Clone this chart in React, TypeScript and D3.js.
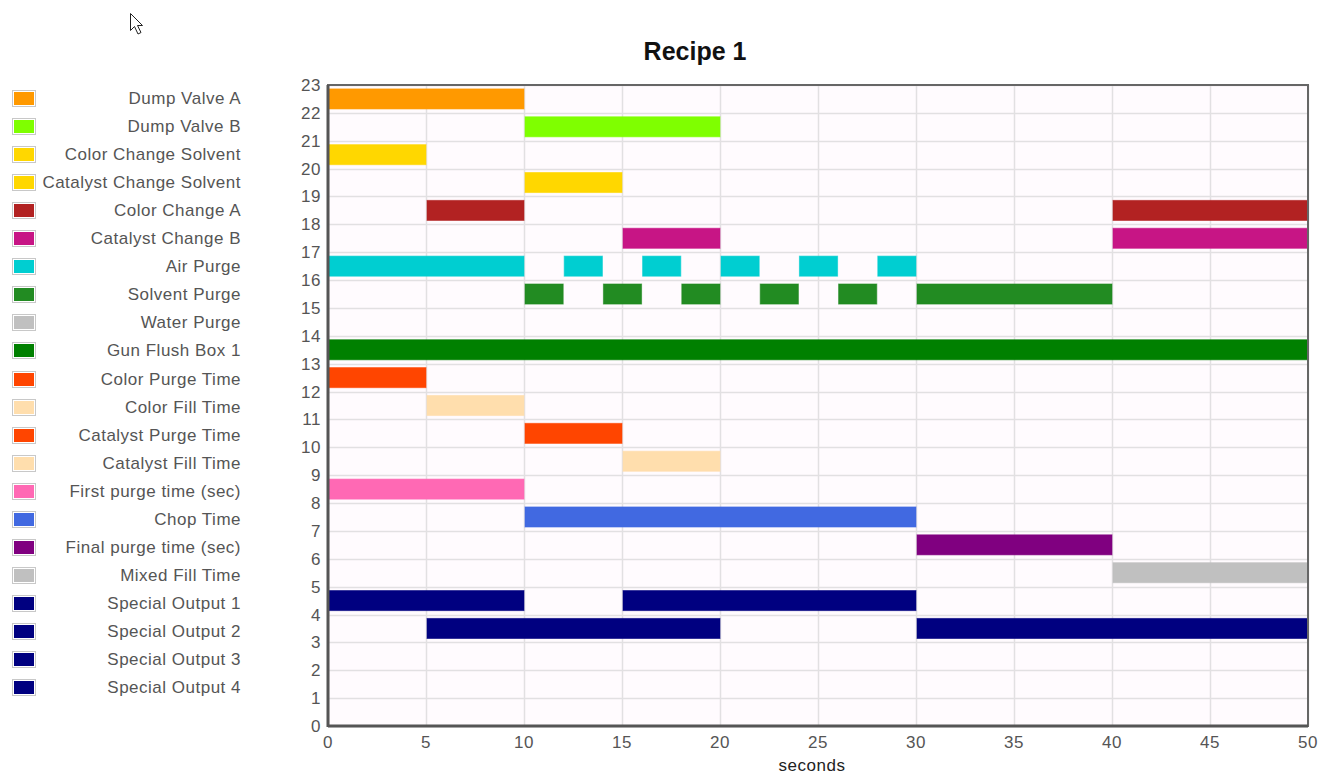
import React from "react";
import * as d3 from "d3";

const title = "Recipe 1";
const xLabel = "seconds";

const seriesNames = [
  "Dump Valve A",
  "Dump Valve B",
  "Color Change Solvent",
  "Catalyst Change Solvent",
  "Color Change A",
  "Catalyst Change B",
  "Air Purge",
  "Solvent Purge",
  "Water Purge",
  "Gun Flush Box 1",
  "Color Purge Time",
  "Color Fill Time",
  "Catalyst Purge Time",
  "Catalyst Fill Time",
  "First purge time (sec)",
  "Chop Time",
  "Final purge time (sec)",
  "Mixed Fill Time",
  "Special Output 1",
  "Special Output 2",
  "Special Output 3",
  "Special Output 4",
];

const seriesColors = [
  "#FF9900",
  "#7FFF00",
  "#FFD700",
  "#FFD700",
  "#B22222",
  "#C71585",
  "#00CED1",
  "#228B22",
  "#C0C0C0",
  "#008000",
  "#FF4500",
  "#FFDEAD",
  "#FF4500",
  "#FFDEAD",
  "#FF69B4",
  "#4169E1",
  "#800080",
  "#C0C0C0",
  "#000080",
  "#000080",
  "#000080",
  "#000080",
];

// row (y value of bar centre) for each series
const seriesRows = [
  22.5, 21.5, 20.5, 19.5, 18.5, 17.5, 16.5, 15.5, 14.5, 13.5, 12.5, 11.5,
  10.5, 9.5, 8.5, 7.5, 6.5, 5.5, 4.5, 3.5, 2.5, 1.5,
];

// [start, end] intervals in seconds for each series
const seriesSegments: number[][][] = [
  [[0, 10]],
  [[10, 20]],
  [[0, 5]],
  [[10, 15]],
  [[5, 10], [40, 50]],
  [[15, 20], [40, 50]],
  [[0, 10], [12, 14], [16, 18], [20, 22], [24, 26], [28, 30]],
  [[10, 12], [14, 16], [18, 20], [22, 24], [26, 28], [30, 40]],
  [],
  [[0, 50]],
  [[0, 5]],
  [[5, 10]],
  [[10, 15]],
  [[15, 20]],
  [[0, 10]],
  [[10, 30]],
  [[30, 40]],
  [[40, 50]],
  [[0, 10], [15, 30]],
  [[5, 20], [30, 50]],
  [],
  [],
];

const xTicks = [0, 5, 10, 15, 20, 25, 30, 35, 40, 45, 50];
const yTicks = d3.range(0, 24);
const barThickness = 0.72;

const W = 1322;
const H = 774;
const plot = { left: 328, right: 1308, top: 85, bottom: 726 };

const FONT = "'Liberation Sans', Arial, sans-serif";

export default function App() {
  const x = d3.scaleLinear().domain([0, 50]).range([plot.left, plot.right]);
  const y = d3.scaleLinear().domain([0, 23]).range([plot.bottom, plot.top]);
  const barH = y(0) - y(barThickness);

  return (
    <svg
      width={W}
      height={H}
      style={{ position: "absolute", left: 0, top: 0, background: "#fff" }}
      fontFamily={FONT}
    >
      {/* cursor */}
      <path
        d="M130.5,13.5 L130.5,30.5 L134.5,26.5 L138,34 L141,32.5 L137.5,25.5 L142.5,25.5 Z"
        fill="#fff"
        stroke="#222"
        strokeWidth={1}
      />
      <text
        x={695}
        y={60}
        textAnchor="middle"
        fontSize={25}
        fontWeight="bold"
        fill="#111"
      >
        {title}
      </text>

      {/* plot background */}
      <rect
        x={plot.left}
        y={plot.top}
        width={plot.right - plot.left}
        height={plot.bottom - plot.top}
        fill="#fffbfe"
      />
      {/* grid */}
      {yTicks.map((t) => (
        <line
          key={"gy" + t}
          x1={plot.left}
          x2={plot.right}
          y1={Math.round(y(t)) + 0.5}
          y2={Math.round(y(t)) + 0.5}
          stroke="#e2e0e2"
          strokeWidth={1.5}
        />
      ))}
      {xTicks.map((t) => (
        <line
          key={"gx" + t}
          y1={plot.top}
          y2={plot.bottom}
          x1={Math.round(x(t)) + 0.5}
          x2={Math.round(x(t)) + 0.5}
          stroke="#e2e0e2"
          strokeWidth={1.5}
        />
      ))}

      {/* bars */}
      {seriesSegments.map((segs, i) =>
        segs.map((s, j) => (
          <rect
            key={"b" + i + "-" + j}
            x={x(s[0]) + 1}
            width={x(s[1]) - x(s[0]) - 1}
            y={y(seriesRows[i]) - barH / 2}
            height={barH}
            fill={seriesColors[i]}
            stroke={seriesColors[i]}
            strokeOpacity={0.6}
            strokeWidth={1}
          />
        ))
      )}

      {/* frame */}
      <rect
        x={plot.left}
        y={plot.top}
        width={plot.right - plot.left}
        height={plot.bottom - plot.top}
        fill="none"
        stroke="#666"
        strokeWidth={2}
      />
      <line
        x1={plot.left}
        x2={plot.left}
        y1={plot.top}
        y2={plot.bottom + 1}
        stroke="#555"
        strokeWidth={3}
      />
      <line
        x1={plot.left}
        x2={plot.right}
        y1={plot.bottom}
        y2={plot.bottom}
        stroke="#555"
        strokeWidth={3}
      />

      {/* y tick labels */}
      {yTicks.map((t) => (
        <text
          key={"ty" + t}
          x={321}
          y={y(t) + 6}
          textAnchor="end"
          fontSize={17}
          letterSpacing={0.5}
          fill="#555"
        >
          {t}
        </text>
      ))}
      {/* x tick labels */}
      {xTicks.map((t) => (
        <text
          key={"tx" + t}
          x={x(t)}
          y={748}
          textAnchor="middle"
          fontSize={17}
          letterSpacing={0.5}
          fill="#555"
        >
          {t}
        </text>
      ))}
      <text
        x={812}
        y={771}
        textAnchor="middle"
        fontSize={17}
        letterSpacing={0.5}
        fill="#222"
      >
        {xLabel}
      </text>

      {/* legend */}
      {seriesNames.map((name, i) => {
        const cy = 98 + i * 28.05;
        return (
          <g key={"l" + i}>
            <rect
              x={12.5}
              y={Math.round(cy - 8) + 0.5}
              width={23}
              height={16}
              fill="#fff"
              stroke="#c8c8c8"
              strokeWidth={1}
            />
            <rect
              x={14}
              y={Math.round(cy - 8) + 2}
              width={20}
              height={13}
              fill={seriesColors[i]}
            />
            <text
              x={241}
              y={cy + 6}
              textAnchor="end"
              fontSize={17}
              letterSpacing={0.5}
              fill="#555"
            >
              {name}
            </text>
          </g>
        );
      })}
    </svg>
  );
}
